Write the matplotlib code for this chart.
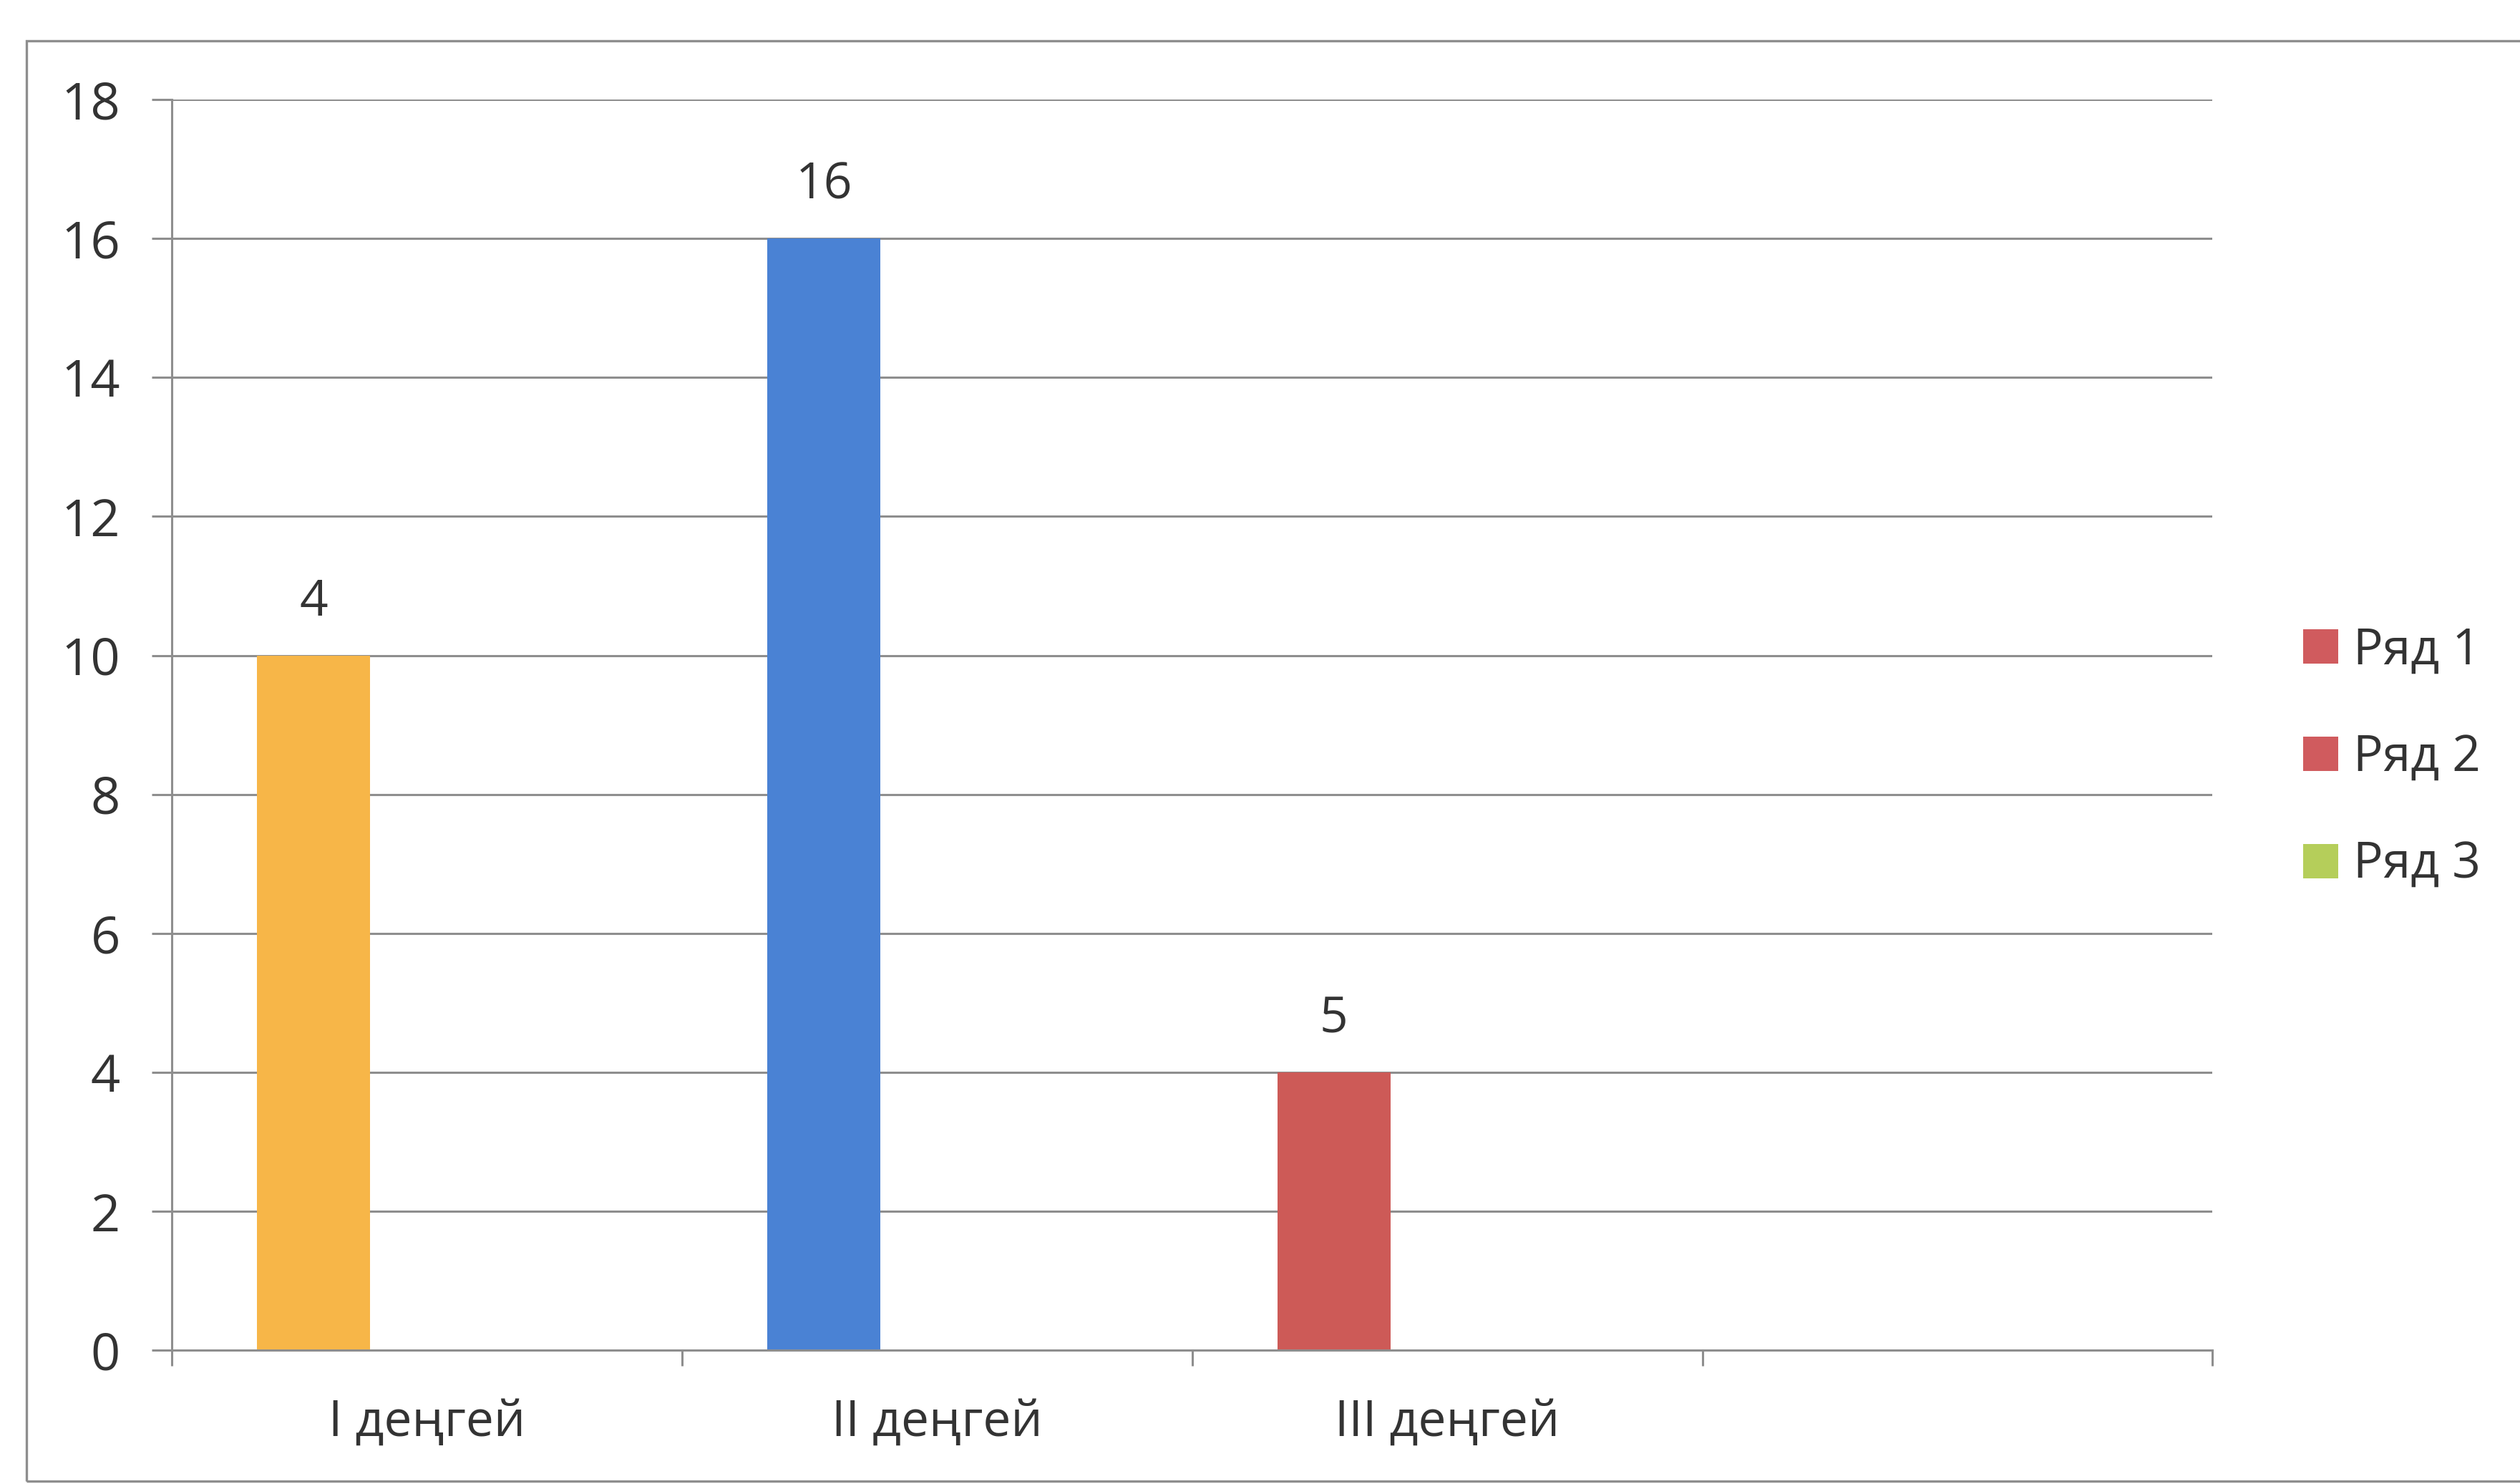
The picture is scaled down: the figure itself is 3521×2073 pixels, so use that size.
import numpy as np
import matplotlib.pyplot as plt
from matplotlib.patches import Patch, Rectangle

# chart data
categories = ["I деңгей", "II деңгей", "III деңгей", ""]
series_names = ["Ряд 1", "Ряд 2", "Ряд 3"]
row1 = [10, 16, 4, 0]
row2 = [0, 0, 0, 0]
row3 = [0, 0, 0, 0]
point_labels = ["4", "16", "5", ""]
y_ticks = [0, 2, 4, 6, 8, 10, 12, 14, 16, 18]

point_colors = ["#F7B648", "#4A82D4", "#CD5A57", "#CD5A57"]
series_colors = ["#D05B5E", "#D05B5E", "#B5CE5A"]
text_color = "#333333"
line_color = "#8E8E8E"

plt.rcParams['font.family'] = ['Open Sans', 'DejaVu Sans']

fig = plt.figure(figsize=(17.605, 10.365), dpi=200)
ax = fig.add_axes([0.0682, 0.090, 0.8098, 0.843])

# outer chart frame (runs off the right edge like the scan)
fig.patches.append(Rectangle((0.0105, 0.002), 1.1, 0.9705, transform=fig.transFigure,
                             fill=False, edgecolor=line_color, linewidth=1.2, clip_on=False))

x = np.arange(len(categories))
width = 1 / 4.5
ax.bar(x - width, row1, width, color=point_colors, zorder=2)
ax.bar(x, row2, width, color=series_colors[1], zorder=2)
ax.bar(x + width, row3, width, color=series_colors[2], zorder=2)

for xi, v, lab in zip(x, row1, point_labels):
    if lab:
        ax.annotate(lab, (xi - width, v), xytext=(0, 14), textcoords='offset points',
                    ha='center', va='bottom', fontsize=25, color=text_color)

ax.set_xlim(-0.5, len(categories) - 0.5)
ax.set_ylim(0, 18)
ax.set_yticks(y_ticks)
ax.set_xticks(np.arange(len(categories) + 1) - 0.5)
ax.set_xticklabels([])
ax.set_xticks(x, minor=True)
ax.set_xticklabels(categories, minor=True)

ax.grid(axis='y', color=line_color, linewidth=1.1, zorder=1)
ax.set_axisbelow(True)
for side in ['top', 'right']:
    ax.spines[side].set_visible(False)
for side in ['left', 'bottom']:
    ax.spines[side].set_color(line_color)
    ax.spines[side].set_linewidth(1.1)

ax.tick_params(axis='y', length=10, width=1.1, color=line_color, pad=16,
               labelsize=26, labelcolor=text_color)
ax.tick_params(axis='x', which='major', length=8, width=1.1, color=line_color)
ax.tick_params(axis='x', which='minor', length=0, pad=24, labelsize=25, labelcolor=text_color)

handles = [Patch(facecolor=c, edgecolor='none') for c in series_colors]
fig.legend(handles, series_names, loc='center left', bbox_to_anchor=(0.914, 0.489),
           frameon=False, fontsize=25, labelcolor=text_color, handlelength=0.7,
           handleheight=0.7, handletextpad=0.3, labelspacing=1.15,
           borderpad=0, borderaxespad=0)

fig.savefig("out.png", dpi=200, facecolor='white')
